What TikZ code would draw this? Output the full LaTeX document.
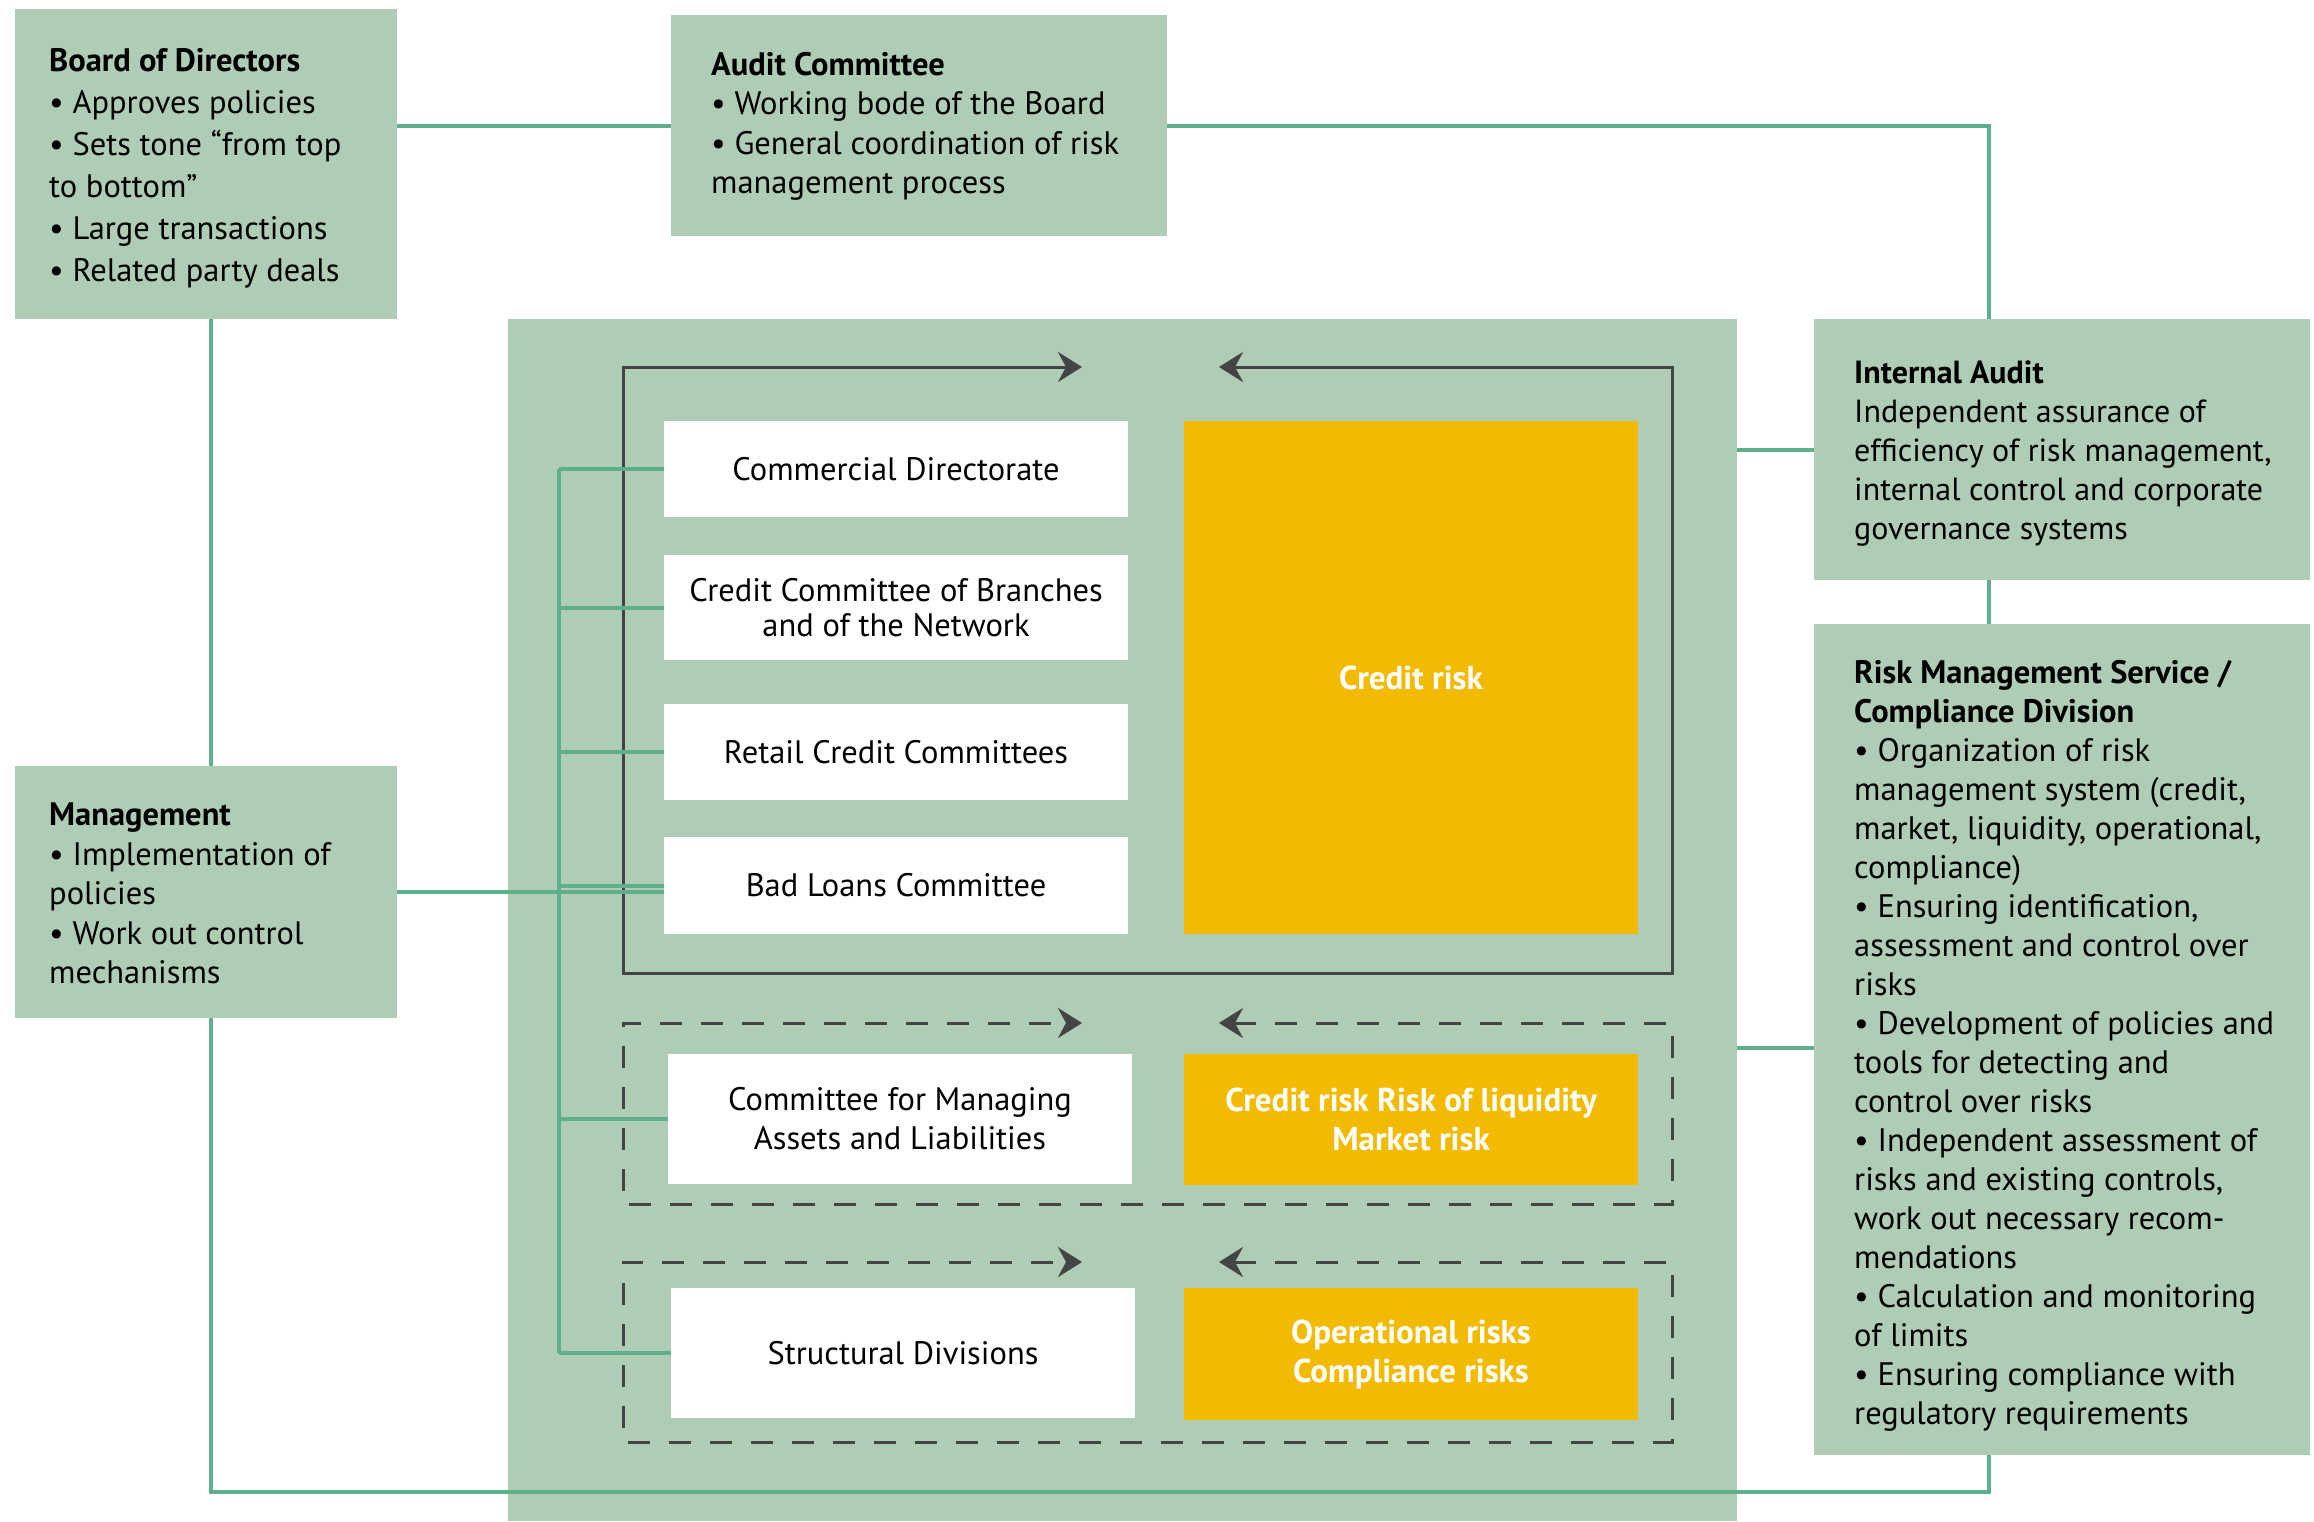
\documentclass[tikz,border=0pt]{standalone}
\usepackage{fontspec}
\setmainfont{PT Sans}
\usetikzlibrary{arrows.meta}
\definecolor{panelg}{HTML}{AFCCB5}
\definecolor{lineg}{HTML}{5FAF8C}
\definecolor{riskY}{HTML}{F2BA00}
\definecolor{darkl}{HTML}{444444}
\begin{document}
\begin{tikzpicture}[x=1pt,y=-1pt,
  gbox/.style={fill=panelg, draw=none, inner sep=0pt},
  wbox/.style={fill=white, draw=none, inner sep=0pt, align=center, minimum width=464pt, font=\fontsize{32.5}{35}\selectfont},
  ybox/.style={fill=riskY, draw=none, inner sep=0pt, align=center, minimum width=454pt, text=white, font=\fontsize{33}{39}\selectfont\bfseries},
  txt/.style={inner sep=0pt, anchor=north west, align=left},
  gline/.style={draw=lineg, line width=4pt},
  frame/.style={draw=darkl, line width=3pt, {Stealth[length=24pt,width=30pt,inset=8pt]}-{Stealth[length=24pt,width=30pt,inset=8pt]}},
  dframe/.style={frame, dash pattern=on 22pt off 19pt}
]
\useasboundingbox (0,0) rectangle (2314,1521);

% outer boxes
\node[gbox, minimum width=382pt, minimum height=310pt] (board) at (206,164) {};
\node[gbox, minimum width=496pt, minimum height=221pt] (audit) at (919,125.5) {};
\node[gbox, minimum width=496pt, minimum height=261pt] (ia) at (2062,449.5) {};
\node[gbox, minimum width=496pt, minimum height=831pt] (rm) at (2062,1039.5) {};
\node[gbox, minimum width=382pt, minimum height=252pt] (mgmt) at (206,892) {};
\node[gbox, minimum width=1229pt, minimum height=1202pt] (panel) at (1122.5,920) {};

% texts of outer boxes
\node[txt, font=\fontsize{32.5}{42}\selectfont] (boardt) at (49,48)
  {\textbf{Board of Directors}\\ • Approves policies\\ • Sets tone “from top\\ to bottom”\\ • Large transactions\\ • Related party deals};
\node[txt, font=\fontsize{32.5}{39.5}\selectfont] (auditt) at (711,52)
  {\textbf{Audit Committee}\\ • Working bode of the Board\\ • General coordination of risk\\ management process};
\node[txt, font=\fontsize{32}{39}\selectfont] (iat) at (1854,361)
  {\textbf{Internal Audit}\\ Independent assurance of\\ efficiency of risk management,\\ internal control and corporate\\ governance systems};
\node[txt, font=\fontsize{32.5}{39}\selectfont] (rmt) at (1854,660)
  {\textbf{Risk Management Service /}\\ \textbf{Compliance Division}\\ • Organization of risk\\ management system (credit,\\ market, liquidity, operational,\\ compliance)\\ • Ensuring identification,\\ assessment and control over\\ risks\\ • Development of policies and\\ tools for detecting and\\ control over risks\\ • Independent assessment of\\ risks and existing controls,\\ work out necessary recom-\\ mendations\\ • Calculation and monitoring\\ of limits\\ • Ensuring compliance with\\ regulatory requirements};
\node[txt, font=\fontsize{32.5}{39.4}\selectfont] (mgmtt) at (49,803)
  {\textbf{Management}\\ • Implementation of\\ policies\\ • Work out control\\ mechanisms};

% inner boxes
\node[wbox, minimum height=96pt] (comm) at (896,469) {Commercial Directorate};
\node[wbox, minimum height=105pt] (ccb) at (896,607.5) {Credit Committee of Branches\\ and of the Network};
\node[wbox, minimum height=96pt] (retail) at (896,752) {Retail Credit Committees};
\node[wbox, minimum height=97pt] (bad) at (896,885.5) {Bad Loans Committee};
\node[ybox, minimum height=513pt] (cr) at (1411,677.5) {Credit risk};
\node[wbox, minimum height=130pt, font=\fontsize{32.5}{39}\selectfont] (alco) at (900,1119) {Committee for Managing\\ Assets and Liabilities};
\node[ybox, minimum height=131pt] (liq) at (1411,1119.5) {Credit risk Risk of liquidity\\ Market risk};
\node[wbox, minimum height=130pt] (struct) at (903,1353) {Structural Divisions};
\node[ybox, minimum height=132pt] (oper) at (1411,1354) {Operational risks\\ Compliance risks};

% frames with arrows
\draw[frame] (1219,367) -- (1672,367) -- (1672,973) -- (623,973) -- (623,367) -- (1082,367);
\draw[dframe] (1219,1023) -- (1672,1023) -- (1672,1204) -- (623,1204) -- (623,1023) -- (1082,1023);
\draw[dframe] (1219,1262) -- (1672,1262) -- (1672,1442) -- (623,1442) -- (623,1262) -- (1082,1262);

% coordinates for connectors
\coordinate (rx) at (1989,0);
\coordinate (lx) at (211,0);
\coordinate (bus) at (559,0);
\coordinate (bottom) at (0,1492);

% green connectors
\draw[gline] (audit.west) -- (audit.west -| board.east);
\draw[gline] (audit.east) -| (rx |- ia.north);
\draw[gline] (rx |- ia.south) -- (rx |- rm.north);
\draw[gline] (rx |- rm.south) -- (rx |- bottom) -- (lx |- bottom) -- (lx |- mgmt.south);
\draw[gline] (lx |- board.south) -- (lx |- mgmt.north);
\draw[gline] (ia.west) -- (ia.west -| panel.east);
\coordinate (rmin) at (1737,1048);
\draw[gline] (rmin) -- (rmin -| rm.west);
\draw[gline] (mgmt.east) -- (mgmt.east -| bad.west);
\draw[gline] (bus |- comm.west) -- (bus |- struct.west);
\foreach \n in {comm,ccb,retail,bad,alco,struct}
  \draw[gline] (bus |- \n.west) -- (\n.west);
\end{tikzpicture}
\end{document}
